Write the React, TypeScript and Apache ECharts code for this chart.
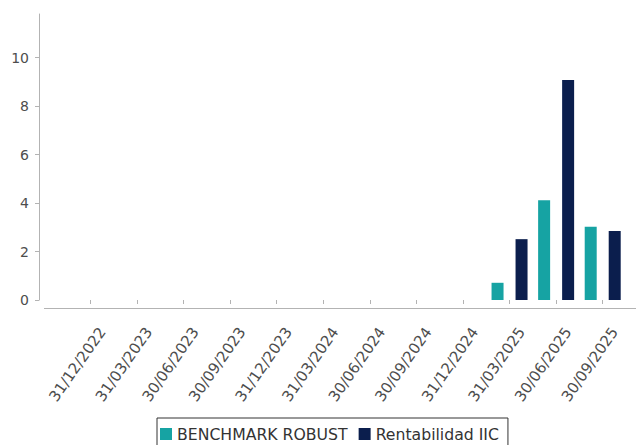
import React, { useEffect, useRef } from "react";
import * as echarts from "echarts";

const categories = [
  "31/12/2022", "31/03/2023", "30/06/2023", "30/09/2023",
  "31/12/2023", "31/03/2024", "30/06/2024", "30/09/2024",
  "31/12/2024", "31/03/2025", "30/06/2025", "30/09/2025",
];
const benchmarkValues: (number | null)[] = [null, null, null, null, null, null, null, null, null, 0.71, 4.12, 3.02];
const iicValues: (number | null)[] = [null, null, null, null, null, null, null, null, null, 2.51, 9.08, 2.85];
const yTicks = [0, 2, 4, 6, 8, 10];
const seriesNames = ["BENCHMARK ROBUST", "Rentabilidad IIC"];

const TEAL = "#16a3a3";
const NAVY = "#0b1e4d";
const AXIS = "#b3b3b3";
const LABEL = "#4d4d4d";
const FONT = "DejaVu Sans";

export default function App() {
  const ref = useRef<HTMLDivElement>(null);
  useEffect(() => {
    document.body.style.margin = "0";
    if (!ref.current) return;
    const chart = echarts.init(ref.current, undefined, { renderer: "svg" });
    chart.setOption({
      animation: false,
      backgroundColor: "#ffffff",
      textStyle: { fontFamily: FONT },
      grid: [
        { left: 67, right: 12, top: 14, bottom: 145 },
        { left: 79, right: 0, top: 14, bottom: 145 },
      ],
      xAxis: [
        {
          type: "category",
          gridIndex: 0,
          data: categories,
          offset: 8,
          axisLine: { show: false },
          axisTick: { show: true, interval: 0, alignWithLabel: true, length: 4, lineStyle: { color: AXIS } },
          axisLabel: { show: false, interval: 0 },
          splitLine: { show: false },
        },
        {
          type: "category",
          gridIndex: 1,
          data: categories,
          offset: 8,
          axisLine: { show: false },
          axisTick: { show: false },
          axisLabel: {
            show: true,
            interval: 0,
            rotate: 55,
            margin: 21,
            fontSize: 15,
            color: LABEL,
            fontFamily: FONT,
          },
          splitLine: { show: false },
        },
      ],
      yAxis: [
        {
          type: "value",
          gridIndex: 0,
          min: 0,
          max: 11.8,
          interval: 2,
          offset: 28,
          axisLine: { show: true, lineStyle: { color: AXIS } },
          axisTick: { show: true, length: 4, lineStyle: { color: AXIS }, customValues: yTicks },
          axisLabel: {
            customValues: yTicks,
            margin: 10,
            fontSize: 14,
            color: LABEL,
            fontFamily: FONT,
          },
          splitLine: { show: false },
        },
        {
          type: "value",
          gridIndex: 1,
          min: 0,
          max: 11.8,
          show: false,
        },
      ],
      legend: {
        data: seriesNames,
        left: 157,
        top: 418,
        orient: "horizontal",
        selectedMode: false,
        icon: "rect",
        itemWidth: 12,
        itemHeight: 12,
        itemGap: 11,
        padding: [8, 9, 20, 3],
        borderColor: "#333333",
        borderWidth: 1,
        textStyle: { fontSize: 15.7, color: "#333333", fontFamily: FONT },
      },
      graphic: [
        {
          type: "line",
          shape: { x1: 44, y1: 308.5, x2: 636, y2: 308.5 },
          style: { stroke: AXIS, lineWidth: 1 },
          silent: true,
        },
      ],
      series: [
        {
          name: seriesNames[0],
          type: "bar",
          xAxisIndex: 0,
          yAxisIndex: 0,
          data: benchmarkValues,
          barWidth: 12,
          barGap: "100%",
          itemStyle: { color: TEAL },
        },
        {
          name: seriesNames[1],
          type: "bar",
          xAxisIndex: 0,
          yAxisIndex: 0,
          data: iicValues,
          barWidth: 12,
          barGap: "100%",
          itemStyle: { color: NAVY },
        },
      ],
    });
    return () => chart.dispose();
  }, []);
  return <div ref={ref} style={{ width: 638, height: 445 }} />;
}
